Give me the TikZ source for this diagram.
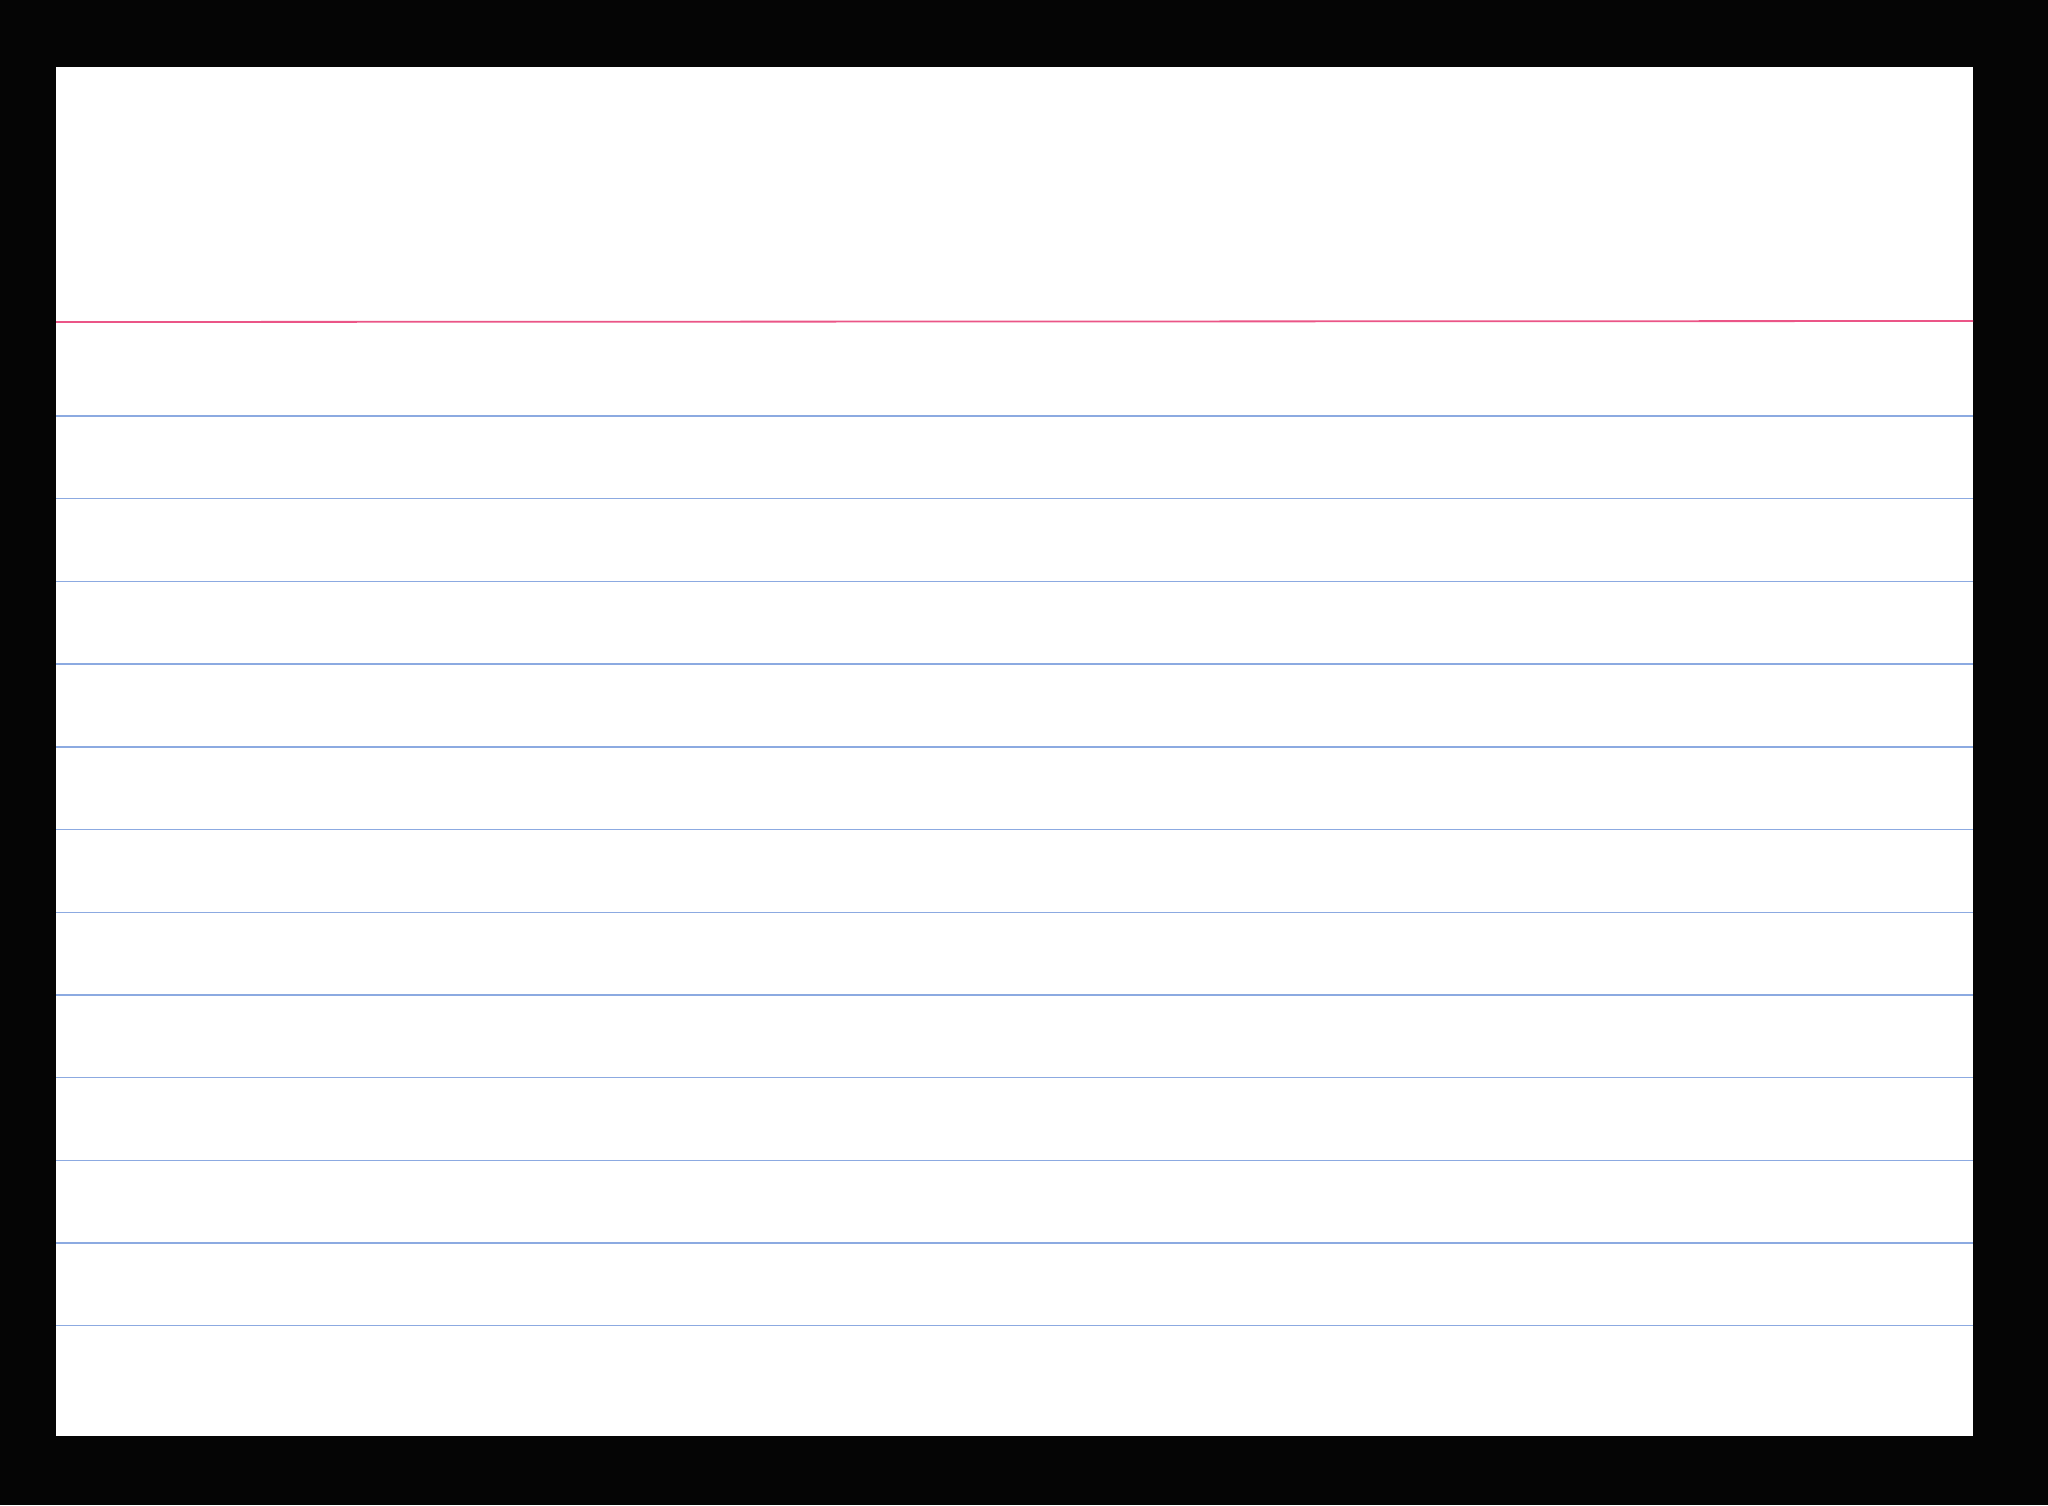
\documentclass[tikz,border=0pt]{standalone}
\begin{document}
\begin{tikzpicture}[x=1pt,y=-1pt,
  redline/.style={draw={rgb,255:red,235;green,85;blue,135},line width=1.8pt},
  blueline/.style={draw={rgb,255:red,140;green,170;blue,225},line width=1.4pt}]
\fill[black!98] (0,0) rectangle (2048,1505);
\useasboundingbox (0,0) rectangle (2048,1505);
\fill[white] (56,67) rectangle (1973,1436);
\draw[redline] (56,322) -- (1973,321);
\foreach \i in {0,...,11}{
  \draw[blueline] (56,{416+\i*82.7}) -- (1973,{416+\i*82.7});
}
\end{tikzpicture}
\end{document}
